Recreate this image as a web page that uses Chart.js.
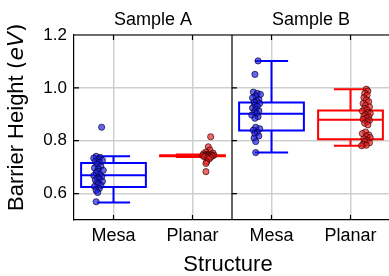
<!DOCTYPE html>
<html>
<head>
<meta charset="utf-8">
<script src="https://cdn.jsdelivr.net/npm/chart.js@4"></script>
<style>
  html, body { margin: 0; padding: 0; background: #fff; overflow: hidden; }
  #wrap { width: 389px; height: 276px; overflow: hidden; }
</style>
</head>
<body>
<div id="wrap"><canvas id="barrierChart" width="396" height="276"></canvas></div>
<script>
// Panels and categories
const samples = ["Sample A", "Sample B"];
const structures = ["Mesa", "Planar"];
const yTicks = [0.6, 0.8, 1.0, 1.2];

// Box statistics, order: A Mesa, A Planar, B Mesa, B Planar
const whiskerLow  = [0.566, 0.738, 0.755, 0.781];
const q1          = [0.625, 0.741, 0.839, 0.806];
const medians     = [0.669, 0.743, 0.902, 0.879];
const q3          = [0.716, 0.745, 0.945, 0.914];
const whiskerHigh = [0.741, 0.748, 1.102, 0.995];

// Individual measurements (eV) and their horizontal jitter
const mesaA = [0.851, 0.741, 0.737, 0.734, 0.729, 0.726, 0.722, 0.718, 0.711, 0.703,
               0.697, 0.693, 0.688, 0.684, 0.679, 0.672, 0.668, 0.664, 0.659, 0.655,
               0.651, 0.646, 0.641, 0.636, 0.631, 0.627, 0.619, 0.612, 0.604, 0.569];
const mesaAJitter = [-0.15, -0.22, -0.17, -0.25, -0.19, -0.14, -0.23, -0.18, -0.21, -0.16,
                     -0.24, -0.19, -0.13, -0.2, -0.22, -0.17, -0.25, -0.15, -0.2, -0.18,
                     -0.23, -0.14, -0.21, -0.19, -0.16, -0.24, -0.18, -0.22, -0.2, -0.22];

const planarA = [0.815, 0.777, 0.765, 0.757, 0.753, 0.751, 0.749, 0.748, 0.747, 0.746,
                 0.745, 0.744, 0.744, 0.743, 0.742, 0.741, 0.740, 0.739, 0.737, 0.735,
                 0.731, 0.72, 0.714, 0.683];
const planarAJitter = [0.23, 0.2, 0.22, 0.17, 0.26, 0.14, 0.21, 0.18, 0.24, 0.16,
                       0.27, 0.19, 0.13, 0.22, 0.25, 0.17, 0.2, 0.15, 0.23, 0.19,
                       0.21, 0.18, 0.17, 0.17];

const mesaB = [1.102, 1.051, 0.984, 0.979, 0.975, 0.969, 0.962, 0.956, 0.951, 0.946,
               0.941, 0.935, 0.93, 0.924, 0.918, 0.913, 0.908, 0.903, 0.897, 0.891,
               0.885, 0.851, 0.845, 0.84, 0.832, 0.826, 0.818, 0.81, 0.797, 0.755];
const mesaBJitter = [-0.17, -0.21, -0.23, -0.18, -0.14, -0.2, -0.24, -0.16, -0.19, -0.22,
                     -0.15, -0.21, -0.18, -0.24, -0.2, -0.16, -0.22, -0.19, -0.25, -0.17,
                     -0.21, -0.2, -0.15, -0.23, -0.18, -0.21, -0.16, -0.22, -0.2, -0.2];

const planarB = [0.995, 0.988, 0.979, 0.972, 0.963, 0.955, 0.948, 0.941, 0.934, 0.928,
                 0.922, 0.917, 0.912, 0.907, 0.903, 0.899, 0.894, 0.89, 0.886, 0.881,
                 0.877, 0.872, 0.866, 0.86, 0.833, 0.827, 0.822, 0.817, 0.812, 0.807,
                 0.802, 0.797, 0.792, 0.787, 0.783, 0.781];
const planarBJitter = [0.2, 0.22, 0.18, 0.21, 0.17, 0.2, 0.23, 0.16, 0.19, 0.24,
                       0.18, 0.21, 0.15, 0.22, 0.25, 0.19, 0.17, 0.23, 0.2, 0.16,
                       0.24, 0.21, 0.18, 0.22, 0.19, 0.15, 0.23, 0.2, 0.25, 0.17,
                       0.21, 0.18, 0.24, 0.16, 0.2, 0.14];

const groups = [mesaA, planarA, mesaB, planarB];
const jitters = [mesaAJitter, planarAJitter, mesaBJitter, planarBJitter];

// Styles
const lineColors = ["#0000ff", "#ff0000", "#0000ff", "#ff0000"];
const pointFills = ["rgba(30,30,235,0.68)", "rgba(235,35,35,0.68)", "rgba(30,30,235,0.68)", "rgba(235,35,35,0.68)"];
const pointEdges = ["rgba(0,0,40,0.85)", "rgba(50,0,0,0.85)", "rgba(0,0,40,0.85)", "rgba(50,0,0,0.85)"];
const BOX_HALF = 0.41;
const CAP_HALF = 0.21;
const SANS = '"Liberation Sans", Arial, sans-serif';

const datasets = groups.map((vals, i) => ({
    data: vals.map((v, k) => ({ x: i + jitters[i][k], y: v })),
    backgroundColor: pointFills[i],
    borderColor: pointEdges[i],
    borderWidth: 0.8,
    pointRadius: 3.1,
}));

// box plots go under the points
const boxPlugin = {
    id: "boxes",
    beforeDatasetsDraw(chart) {
        const { ctx, scales: { x, y } } = chart;
        ctx.save();
        ctx.lineWidth = 2;
        for (let i = 0; i < groups.length; i++) {
            ctx.strokeStyle = lineColors[i];
            const xl = x.getPixelForValue(i - BOX_HALF);
            const xr = x.getPixelForValue(i + BOX_HALF);
            const xc = x.getPixelForValue(i);
            const cl = x.getPixelForValue(i - CAP_HALF);
            const cr = x.getPixelForValue(i + CAP_HALF);
            const yq1 = y.getPixelForValue(q1[i]);
            const yq3 = y.getPixelForValue(q3[i]);
            const ym = y.getPixelForValue(medians[i]);
            const ylo = y.getPixelForValue(whiskerLow[i]);
            const yhi = y.getPixelForValue(whiskerHigh[i]);
            ctx.beginPath();
            ctx.rect(xl, yq3, xr - xl, yq1 - yq3);
            ctx.moveTo(xl, ym); ctx.lineTo(xr, ym);
            ctx.moveTo(xc, yq3); ctx.lineTo(xc, yhi);
            ctx.moveTo(xc, yq1); ctx.lineTo(xc, ylo);
            ctx.moveTo(cl, yhi); ctx.lineTo(cr, yhi);
            ctx.moveTo(cl, ylo); ctx.lineTo(cr, ylo);
            ctx.stroke();
        }
        ctx.restore();
    },
    afterDraw(chart) {
        const { ctx, chartArea: a, scales: { x, y } } = chart;
        const xDiv = x.getPixelForValue(1.5);
        ctx.save();
        ctx.strokeStyle = "#000";
        ctx.lineWidth = 1.2;
        ctx.beginPath();
        // frame top, right and panel divider
        ctx.moveTo(a.left, a.top); ctx.lineTo(a.right, a.top);
        ctx.moveTo(a.right, a.top); ctx.lineTo(a.right, a.bottom);
        ctx.moveTo(xDiv, a.top); ctx.lineTo(xDiv, a.bottom);
        // inward ticks
        yTicks.forEach(v => {
            const py = y.getPixelForValue(v);
            ctx.moveTo(a.left, py); ctx.lineTo(a.left + 5, py);
            ctx.moveTo(xDiv, py); ctx.lineTo(xDiv + 5, py);
        });
        [0, 1, 2, 3].forEach(v => {
            const px = x.getPixelForValue(v);
            ctx.moveTo(px, a.top); ctx.lineTo(px, a.top + 5);
            ctx.moveTo(px, a.bottom); ctx.lineTo(px, a.bottom - 5);
        });
        ctx.stroke();

        ctx.fillStyle = "#000";
        ctx.textAlign = "center";
        ctx.textBaseline = "alphabetic";
        // panel titles
        ctx.font = "18px " + SANS;
        ctx.fillText(samples[0], (a.left + xDiv) / 2, 25);
        ctx.fillText(samples[1], (xDiv + a.right) / 2, 25);
        // x title
        ctx.font = "22px " + SANS;
        ctx.fillText("Structure", 228, 271);
        // y title with math-style unit
        ctx.translate(23, 211);
        ctx.rotate(-Math.PI / 2);
        ctx.textAlign = "left";
        ctx.font = "22px " + SANS;
        const head = "Barrier Height ";
        ctx.fillText(head, 0, 0);
        let pos = ctx.measureText(head).width;
        const parts = [["(", "22px \"DejaVu Sans\""], ["e", "italic 22px \"DejaVu Sans\""],
                       ["V", "italic 22px \"DejaVu Sans\""], [")", "22px \"DejaVu Sans\""]];
        parts.forEach(([t, f]) => {
            ctx.font = f;
            ctx.fillText(t, pos, 0);
            pos += ctx.measureText(t).width;
        });
        ctx.restore();
    },
};

const config = {
    type: "scatter",
    data: { datasets },
    options: {
        responsive: false,
        animation: false,
        devicePixelRatio: 1,
        layout: { padding: { top: 35, right: 6, left: 0, bottom: 0 } },
        plugins: {
            legend: { display: false },
            tooltip: { enabled: false },
        },
        scales: {
            x: {
                type: "linear",
                min: -0.5,
                max: 3.5,
                afterBuildTicks: (s) => { s.ticks = [0, 1, 2, 3].map(v => ({ value: v })); },
                afterFit: (s) => { s.height = 56; },
                ticks: {
                    autoSkip: false,
                    maxRotation: 0,
                    padding: 5,
                    color: "#000",
                    font: { family: SANS, size: 18 },
                    callback: (v, idx) => structures[idx % 2],
                },
                grid: { color: "#cfcfcf", lineWidth: 1.5, drawTicks: false },
                border: { color: "#000", width: 1.2 },
            },
            y: {
                min: 0.5,
                max: 1.2,
                afterBuildTicks: (s) => { s.ticks = yTicks.map(v => ({ value: v })); },
                afterFit: (s) => { s.width = 74; },
                ticks: {
                    padding: 7,
                    color: "#000",
                    font: { family: SANS, size: 17 },
                    callback: (v) => v.toFixed(1),
                },
                grid: { color: "#cfcfcf", lineWidth: 1.5, drawTicks: false },
                border: { color: "#000", width: 1.2 },
            },
        },
    },
    plugins: [boxPlugin],
};

const ctx = document.getElementById("barrierChart").getContext("2d");
const barrierChart = new Chart(ctx, config);
</script>
</body>
</html>
